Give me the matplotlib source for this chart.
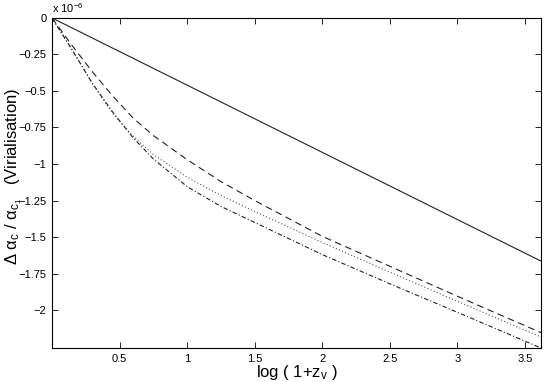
import numpy as np
import matplotlib
matplotlib.use("Agg")
import matplotlib.pyplot as plt

plt.rcParams["font.family"] = ["Liberation Sans", "DejaVu Sans"]
plt.rcParams["mathtext.fontset"] = "custom"
plt.rcParams["mathtext.rm"] = "Liberation Sans"
plt.rcParams["mathtext.it"] = "Liberation Sans"

# values in units of 1e-6
x_lin = [0.0, 3.62]
y_lin = [0.0, -1.665]

x_curve = [0.0, 0.15, 0.3, 0.45, 0.6, 0.75, 1.0, 1.25, 1.5, 2.0, 2.5, 3.0, 3.62]
y_dash = [0.0, -0.19, -0.37, -0.535, -0.685, -0.805, -0.97, -1.12, -1.25,
          -1.495, -1.70, -1.905, -2.155]
y_dot = [0.0, -0.22, -0.45, -0.655, -0.81, -0.935, -1.09, -1.215, -1.325,
         -1.537, -1.74, -1.94, -2.185]
y_dashdot = [0.0, -0.22, -0.45, -0.645, -0.82, -0.965, -1.155, -1.29, -1.40,
             -1.62, -1.82, -2.015, -2.26]

xticks = [0.5, 1, 1.5, 2, 2.5, 3, 3.5]
xticklabels = ["0.5", "1", "1.5", "2", "2.5", "3", "3.5"]
yticks = [0, -0.25, -0.5, -0.75, -1, -1.25, -1.5, -1.75, -2]
yticklabels = ["0", "\u22120.25", "\u22120.5", "\u22120.75", "\u22121",
               "\u22121.25", "\u22121.5", "\u22121.75", "\u22122"]

fig = plt.figure(figsize=(5.45, 3.82), dpi=100)
ax = fig.add_axes([0.0954, 0.089, 0.8973, 0.864])

ax.plot(x_lin, y_lin, color="#222222", lw=0.8, ls="-")
ax.plot(x_curve, y_dash, color="#222222", lw=0.8, ls=(0, (6, 4)))
ax.plot(x_curve, y_dot, color="#555555", lw=0.8, ls=(0, (1, 2)))
ax.plot(x_curve, y_dashdot, color="#222222", lw=0.8, ls=(0, (4, 2, 1, 2)))

ax.set_xlim(0, 3.62)
ax.set_ylim(-2.26, 0)
ax.set_xticks(xticks)
ax.set_xticklabels(xticklabels)
ax.set_yticks(yticks)
ax.set_yticklabels(yticklabels)
ax.tick_params(direction="in", length=4, width=0.6, labelsize=8,
               top=True, right=True, pad=4)
for s in ax.spines.values():
    s.set_linewidth(0.8)

ax.text(0.0, 1.01, r"x 10$^{-6}$", transform=ax.transAxes, fontsize=8,
        ha="left", va="bottom")

ax.set_xlabel(r"log ( 1+z$_\mathregular{v}$ )", fontsize=12)
ax.xaxis.set_label_coords(0.5, -0.045)
ax.set_ylabel(r"$\Delta$ $\alpha_\mathregular{c}$ / $\alpha_{\mathregular{c}_\mathregular{1}}$   (Virialisation)",
              fontsize=12)
ax.yaxis.set_label_coords(-0.058, 0.52)

fig.savefig("out.png", dpi=100)
